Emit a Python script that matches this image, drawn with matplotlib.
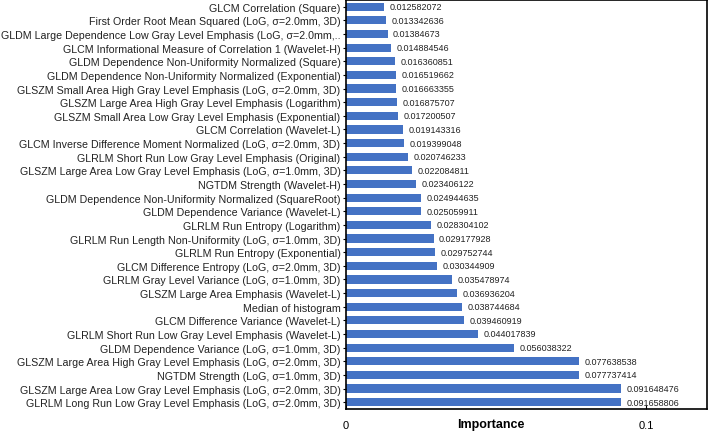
import matplotlib
matplotlib.use("Agg")
import matplotlib.pyplot as plt

plt.rcParams['font.family'] = ['Liberation Sans', 'DejaVu Sans']

# feature names, top to bottom as in the chart
features = [
    "GLCM Correlation (Square)",
    "First Order Root Mean Squared (LoG, σ=2.0mm, 3D)",
    "GLDM Large Dependence Low Gray Level Emphasis (LoG, σ=2.0mm,..",
    "GLCM Informational Measure of Correlation 1 (Wavelet-H)",
    "GLDM Dependence Non-Uniformity Normalized (Square)",
    "GLDM Dependence Non-Uniformity Normalized (Exponential)",
    "GLSZM Small Area High Gray Level Emphasis (LoG, σ=2.0mm, 3D)",
    "GLSZM Large Area High Gray Level Emphasis (Logarithm)",
    "GLSZM Small Area Low Gray Level Emphasis (Exponential)",
    "GLCM Correlation (Wavelet-L)",
    "GLCM Inverse Difference Moment Normalized (LoG, σ=2.0mm, 3D)",
    "GLRLM Short Run Low Gray Level Emphasis (Original)",
    "GLSZM Large Area Low Gray Level Emphasis (LoG, σ=1.0mm, 3D)",
    "NGTDM Strength (Wavelet-H)",
    "GLDM Dependence Non-Uniformity Normalized (SquareRoot)",
    "GLDM Dependence Variance (Wavelet-L)",
    "GLRLM Run Entropy (Logarithm)",
    "GLRLM Run Length Non-Uniformity (LoG, σ=1.0mm, 3D)",
    "GLRLM Run Entropy (Exponential)",
    "GLCM Difference Entropy (LoG, σ=2.0mm, 3D)",
    "GLRLM Gray Level Variance (LoG, σ=1.0mm, 3D)",
    "GLSZM Large Area Emphasis (Wavelet-L)",
    "Median of histogram",
    "GLCM Difference Variance (Wavelet-L)",
    "GLRLM Short Run Low Gray Level Emphasis (Wavelet-L)",
    "GLDM Dependence Variance (LoG, σ=1.0mm, 3D)",
    "GLSZM Large Area High Gray Level Emphasis (LoG, σ=2.0mm, 3D)",
    "NGTDM Strength (LoG, σ=1.0mm, 3D)",
    "GLSZM Large Area Low Gray Level Emphasis (LoG, σ=2.0mm, 3D)",
    "GLRLM Long Run Low Gray Level Emphasis (LoG, σ=2.0mm, 3D)",
]

importance = [
    0.012582072, 0.013342636, 0.01384673, 0.014884546, 0.016360851,
    0.016519662, 0.016663355, 0.016875707, 0.017200507, 0.019143316,
    0.019399048, 0.020746233, 0.022084811, 0.023406122, 0.024944635,
    0.025059911, 0.028304102, 0.029177928, 0.029752744, 0.030344909,
    0.035478974, 0.036936204, 0.038744684, 0.039460919, 0.044017839,
    0.056038322, 0.077638538, 0.077737414, 0.091648476, 0.091658806,
]

# labels as printed next to the bars
value_text = [
    "0.012582072", "0.013342636", "0.01384673", "0.014884546", "0.016360851",
    "0.016519662", "0.016663355", "0.016875707", "0.017200507", "0.019143316",
    "0.019399048", "0.020746233", "0.022084811", "0.023406122", "0.024944635",
    "0.025059911", "0.028304102", "0.029177928", "0.029752744", "0.030344909",
    "0.035478974", "0.036936204", "0.038744684", "0.039460919", "0.044017839",
    "0.056038322", "0.077638538", "0.077737414", "0.091648476", "0.091658806",
]

fig = plt.figure(figsize=(7.08, 4.35), dpi=100)
ax = fig.add_axes([0.4887, 0.0575, 0.5099, 0.9405])

ypos = range(len(features))
ax.barh(ypos, importance, height=0.6, color='#4472C4')
for y, v, t in zip(ypos, importance, value_text):
    ax.annotate(t, (v, y), xytext=(4, 0), textcoords='offset points',
                va='center', ha='left', fontsize=6.5, color='#222222')

ax.set_yticks(list(ypos))
ax.set_yticklabels(features, fontsize=7.7, color='#222222')
ax.set_ylim(len(features) - 0.5, -0.5)
ax.set_xlim(0, 0.1203)
ax.set_xticks([0, 0.1])
ax.set_xticklabels(['0', '0.1'], fontsize=8)
ax.tick_params(axis='x', direction='in', length=3, pad=8)
ax.tick_params(axis='y', direction='out', length=2, pad=2)

ax.set_xlabel('Importance', fontsize=9, fontweight='bold')
ax.xaxis.set_label_coords(0.40, -0.022)

for s in ax.spines.values():
    s.set_linewidth(1.2)
    s.set_color('black')

plt.savefig('out.png', dpi=100)
